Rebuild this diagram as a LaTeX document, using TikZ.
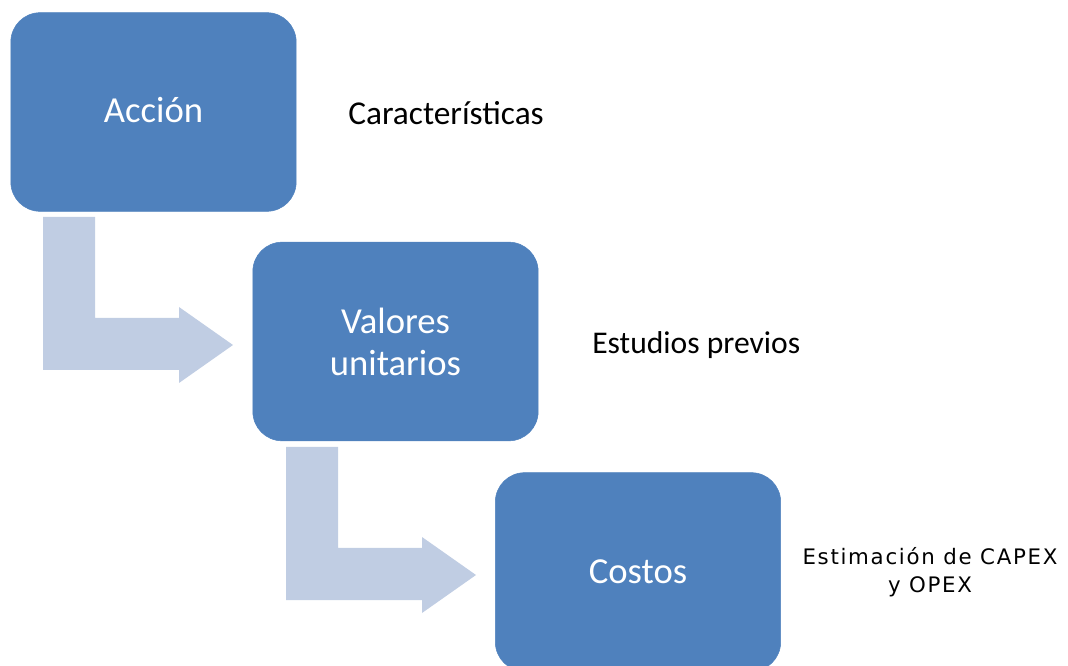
\documentclass[tikz,border=0pt]{standalone}
\usepackage{fontspec}
\setmainfont{Carlito}
\newfontfamily\dejavu[LetterSpace=8]{DejaVu Sans}
\definecolor{boxblue}{HTML}{4F81BD}
\definecolor{arrowblue}{HTML}{C0CDE3}
\tikzset{
  stage/.style={draw=boxblue, fill=boxblue, rounded corners=22pt, minimum width=214pt, minimum height=149pt,
    text=white, font=\fontsize{27.5}{31.5}\selectfont, align=center, inner sep=0pt},
  lbl/.style={text=black, font=\fontsize{25}{29}\selectfont, inner sep=0pt, anchor=west},
  bentarrow/.style={fill=arrowblue, draw=none}
}
\begin{document}
\begin{tikzpicture}[x=0.75pt, y=-0.75pt]
\useasboundingbox (0,0) rectangle (1068,666);
% bent arrows
\fill[bentarrow] (43,217) -- (95,217) -- (95,318) -- (179,318) -- (179,307) -- (233,345) -- (179,383) -- (179,370) -- (43,370) -- cycle;
\fill[bentarrow] (286,447) -- (338,447) -- (338,548) -- (422,548) -- (422,537) -- (476,575) -- (422,613) -- (422,600) -- (286,600) -- cycle;
% boxes
\node[stage] (accion) at (153.5,112) {\raisebox{3pt}{Acción}};
\node[stage] (valores) at (395.5,341.5) {Valores\\unitarios};
\node[stage] (costos) at (638,572) {Costos};
% labels
\node[lbl] (carac) at (348,113) {Características};
\node[lbl, font=\fontsize{23.7}{28}\selectfont] (estud) at (592,345) {Estudios previos};
\node[text=black, font=\dejavu\fontsize{16}{21}\selectfont, align=center, inner sep=0pt] (capex) at (930,572) {Estimación de CAPEX\\y OPEX};
\end{tikzpicture}
\end{document}
